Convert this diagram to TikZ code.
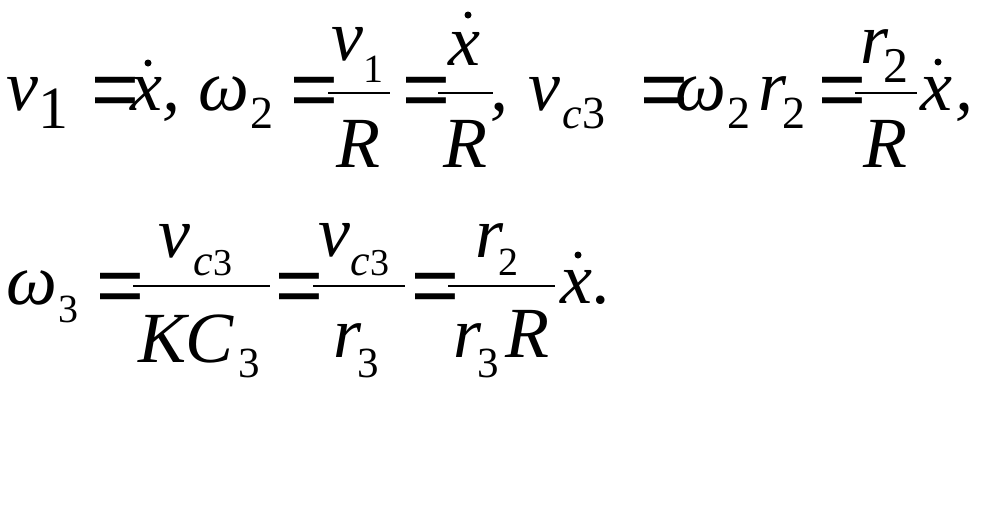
\documentclass[tikz,border=0pt]{standalone}
\usepackage{fontspec}
\setmainfont{Liberation Serif}
\newfontfamily\eqfont{Liberation Sans}

\tikzset{
  glyph/.style={anchor=base west, inner sep=0pt, font=\fontsize{72}{72}\selectfont\itshape},
  ind/.style={anchor=base west, inner sep=0pt, font=\fontsize{#1}{#1}\selectfont},
  eqsign/.style={anchor=base, inner sep=0pt, font=\fontsize{82}{82}\eqfont},
  fracbar/.style={line width=2pt},
  dotmark/.style={fill=black}
}

\begin{document}
\begin{tikzpicture}[x=1pt,y=-1pt]
  \useasboundingbox (0,0) rectangle (983,509);

  % letters, first line
  \foreach \x/\y/\t [count=\i] in {6/110/v, 130/110/x, 162/110/{,}, 198/110/ω, 331/60/v, 336/167/R,
      448/65/x, 443/167/R, 490/110/{,}, 528/110/v, 675/110/ω, 758/110/r, 860/63/r, 863/167/R,
      920/110/x, 955/110/{,}} {
    \node[glyph] (a\i) at (\x,\y) {\t};
  }

  % letters, second line
  \foreach \x/\y/\t [count=\i] in {6/304/ω, 158/257/v, 138/362/K, 185/362/C, 318/256/v, 333/357/r,
      475/257/r, 453/357/r, 505/357/R, 560/303/x, 593/303/.} {
    \node[glyph] (b\i) at (\x,\y) {\t};
  }

  % indices
  \foreach \x/\y/\s/\t [count=\i] in {38/128/60/1, 250/128/46/2, 363/82/40/1, 727/128/46/2,
      782/128/46/2, 883/82/50/2, 582/128/46/3, 58/322/40/3, 213/275/38/3, 238/377/43/3,
      370/275/38/3, 357/377/43/3, 498/275/40/2, 477/377/43/3} {
    \node[ind=\s] (s\i) at (\x,\y) {\t};
  }
  \foreach \x/\y [count=\i] in {562/128, 193/275, 350/275} {
    \node[ind=46, font=\fontsize{44}{44}\selectfont\itshape] (c\i) at (\x,\y) {c};
  }

  % equals signs
  \foreach \x/\y [count=\i] in {115/117, 314/117, 426/117, 664/117, 842/117,
      120/313, 299/313, 435/313} {
    \node[eqsign] (e\i) at (\x,\y) {=};
  }

  % fraction bars
  \foreach \l/\r/\y in {328/390/93, 438/493/93, 855/917/93, 133/270/286, 313/405/286, 448/555/286} {
    \draw[fracbar] (\l,\y) -- (\r,\y);
  }

  % dots over x
  \foreach \x/\y in {148/63, 468/15, 938/62, 578/255} {
    \fill[dotmark] (\x,\y) circle (3.5);
  }
\end{tikzpicture}
\end{document}
